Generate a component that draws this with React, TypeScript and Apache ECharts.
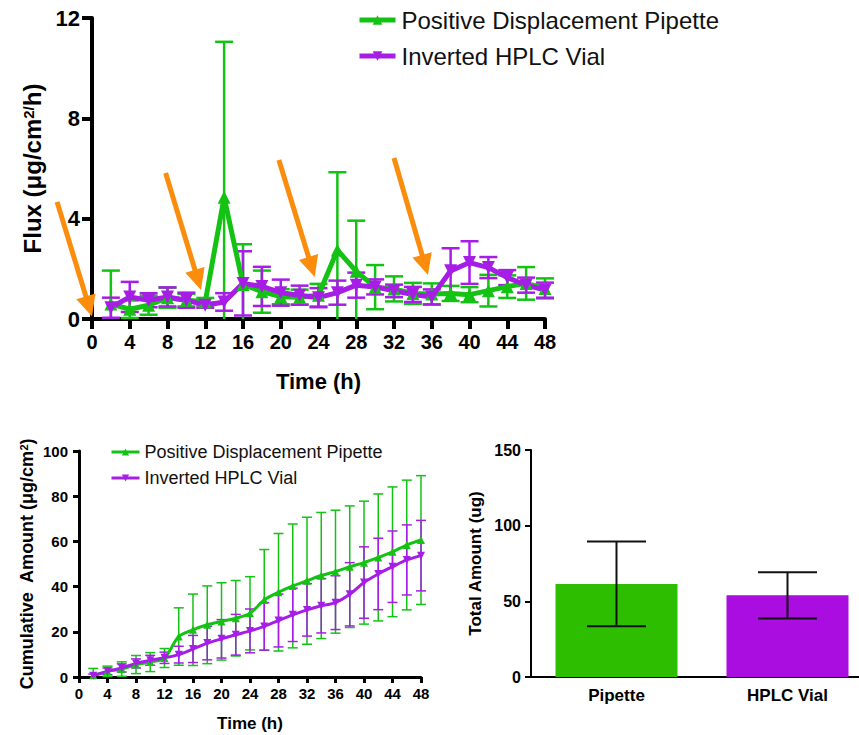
import { useEffect, useRef } from 'react';
import * as echarts from 'echarts';

// Sampling times (h)
const HOURS = [2, 4, 6, 8, 10, 12, 14, 16, 18, 20, 22, 24, 26, 28, 30, 32, 34, 36, 38, 40, 42, 44, 46, 48];

// Flux (µg/cm²/h), mean and SD
const FLUX_PIPETTE = [0.6, 0.39, 0.55, 0.85, 0.75, 0.69, 4.85, 1.38, 1.09, 0.89, 0.87, 0.95, 2.75, 1.9, 1.27, 1.2, 1.02, 1.0, 1.02, 0.97, 1.13, 1.29, 1.42, 1.22];
const FLUX_PIPETTE_SD = [1.33, 0.35, 0.38, 0.4, 0.25, 0.15, 6.2, 1.6, 0.84, 0.3, 0.3, 0.45, 3.1, 2.02, 0.88, 0.5, 0.42, 0.42, 0.3, 0.3, 0.63, 0.45, 0.65, 0.4];
const FLUX_VIAL = [0.45, 0.88, 0.75, 0.88, 0.75, 0.55, 0.68, 1.42, 1.3, 1.05, 0.95, 0.85, 1.05, 1.35, 1.28, 1.12, 0.98, 0.88, 1.92, 2.25, 2.05, 1.65, 1.35, 1.15];
const FLUX_VIAL_SD = [0.4, 0.6, 0.28, 0.38, 0.3, 0.1, 0.35, 1.28, 0.78, 0.52, 0.38, 0.38, 0.48, 0.5, 0.3, 0.25, 0.3, 0.3, 0.9, 0.85, 0.42, 0.3, 0.3, 0.3];

// Cumulative amount (µg/cm²), mean and SD
const CUM_PIPETTE = [0.8, 2.5, 3.5, 5.5, 6.6, 8.4, 17.9, 20.9, 23.1, 24.6, 26.0, 28.2, 34.1, 37.5, 40.3, 42.6, 44.9, 46.6, 48.8, 50.6, 52.9, 55.4, 58.4, 60.6];
const CUM_PIPETTE_SD = [3, 2.3, 3.2, 4, 4.2, 4.2, 12.7, 15.8, 17.2, 17.1, 16.7, 16.2, 22.3, 26, 27.4, 28.1, 27.9, 27.2, 26.9, 27.2, 28.1, 28.7, 28.7, 28.5];
const CUM_VIAL = [0.5, 2.5, 4.0, 6.0, 7.4, 8.5, 9.9, 12.4, 15.0, 16.9, 18.7, 20.4, 22.4, 25.0, 27.5, 29.7, 31.5, 32.9, 36.6, 41.8, 45.6, 48.8, 51.8, 53.7];
const CUM_VIAL_SD = [0.8, 1.5, 1.8, 2.0, 2.2, 2.5, 3.7, 6.0, 7.4, 8.5, 9.0, 9.7, 10.5, 11.7, 11.8, 11.6, 12.0, 11.9, 14.0, 15.8, 15.8, 15.8, 15.5, 15.6];

// Total amount (ug) at 48 h
const TOTAL_GROUPS = ['Pipette', 'HPLC Vial'];
const TOTAL_MEAN = [61.5, 54];
const TOTAL_SD = [28, 15.3];

const SERIES_NAMES = ['Positive Displacement Pipette', 'Inverted HPLC Vial'];

// Dosing arrows on the flux plot: [time, flux] of tail and head
const DOSE_ARROWS = [
  { from: [-3.7, 4.67], to: [0, 0.1] },
  { from: [7.8, 5.82], to: [11.55, 1.16] },
  { from: [19.8, 6.34], to: [23.6, 1.67] },
  { from: [32.0, 6.42], to: [35.6, 1.75] },
];

const GREEN = '#14c214';
const PURPLE = '#a61ee6';
const BAR_GREEN = '#2ebe00';
const BAR_PURPLE = '#aa0de0';
const ORANGE = '#fb8c0c';
const FONT = '"Liberation Sans", Arial, Helvetica, sans-serif';

const withBand = (mean: number[], sd: number[]) => HOURS.map((t, i) => [t, mean[i] - sd[i], mean[i] + sd[i]]);

function errorBars(capWidth: number, lineWidth: number, color: string) {
  return (params: any, api: any) => {
    const x = api.value(0);
    const lo = api.value(1);
    const hi = api.value(2);
    const cs = params.coordSys;
    const floor = cs.y + cs.height;
    const top = api.coord([x, hi]);
    const bottom = api.coord([x, lo]);
    const half = capWidth / 2;
    const style = { stroke: color, lineWidth };
    const yBottom = Math.min(bottom[1], floor);
    const children: any[] = [
      { type: 'line', shape: { x1: top[0], y1: top[1], x2: top[0], y2: yBottom }, style },
      { type: 'line', shape: { x1: top[0] - half, y1: top[1], x2: top[0] + half, y2: top[1] }, style },
    ];
    if (bottom[1] <= floor) {
      children.push({ type: 'line', shape: { x1: bottom[0] - half, y1: bottom[1], x2: bottom[0] + half, y2: bottom[1] }, style });
    }
    return { type: 'group', children };
  };
}

export default function App() {
  const ref = useRef<HTMLDivElement>(null);

  useEffect(() => {
    if (!ref.current) return;
    const chart = echarts.init(ref.current, undefined, { renderer: 'svg' });

    const black = '#000';
    const option: any = {
      animation: false,
      backgroundColor: '#fff',
      textStyle: { fontFamily: FONT },
      legend: [
        {
          left: 352,
          top: 2,
          orient: 'vertical',
          selectedMode: false,
          itemWidth: 36,
          itemHeight: 12,
          itemGap: 10,
          textStyle: { fontSize: 24, color: '#111', fontFamily: FONT, lineHeight: 26, padding: [0, 0, 0, 1] },
          data: SERIES_NAMES.map((n) => ({ name: n, lineStyle: { width: 5 } })),
        },
        {
          left: 105,
          top: 437,
          orient: 'vertical',
          selectedMode: false,
          itemWidth: 28,
          itemHeight: 9,
          itemGap: 6,
          textStyle: { fontSize: 18, color: '#111', fontFamily: FONT, lineHeight: 20, padding: [0, 0, 0, 0] },
          data: SERIES_NAMES.map((n) => ({ name: n, lineStyle: { width: 3 } })),
        },
      ],
      grid: [
        { left: 92, top: 18, width: 453, height: 301, outerBoundsMode: 'none', containLabel: false },
        { left: 79, top: 451, width: 342, height: 226, outerBoundsMode: 'none', containLabel: false },
        { left: 531, top: 450, width: 342, height: 227, outerBoundsMode: 'none', containLabel: false },
      ],
      xAxis: [
        {
          gridIndex: 0,
          type: 'value',
          min: 0,
          max: 48,
          interval: 4,
          splitLine: { show: false },
          axisLine: { lineStyle: { color: black, width: 4 } },
          axisTick: { length: 10, lineStyle: { color: black, width: 4 } },
          axisLabel: { color: black, fontSize: 20, fontWeight: 'bold', margin: 13, fontFamily: FONT },
          name: 'Time (h)',
          nameLocation: 'middle',
          nameGap: 51,
          nameTextStyle: { color: black, fontSize: 22, fontWeight: 'bold', fontFamily: FONT },
        },
        {
          gridIndex: 1,
          type: 'value',
          min: 0,
          max: 48,
          interval: 4,
          splitLine: { show: false },
          axisLine: { lineStyle: { color: black, width: 3 } },
          axisTick: { length: 6, lineStyle: { color: black, width: 3 } },
          axisLabel: { color: black, fontSize: 15, fontWeight: 'bold', margin: 9, fontFamily: FONT },
          name: 'Time (h)',
          nameLocation: 'middle',
          nameGap: 38,
          nameTextStyle: { color: black, fontSize: 17, fontWeight: 'bold', fontFamily: FONT },
        },
        {
          gridIndex: 2,
          type: 'category',
          data: TOTAL_GROUPS,
          axisLine: { lineStyle: { color: black, width: 2 } },
          axisTick: { alignWithLabel: true, length: 6, lineStyle: { color: black, width: 2 } },
          axisLabel: { color: black, fontSize: 17, fontWeight: 'bold', margin: 10, fontFamily: FONT },
        },
      ],
      yAxis: [
        {
          gridIndex: 0,
          type: 'value',
          min: 0,
          max: 12,
          interval: 4,
          splitLine: { show: false },
          axisLine: { show: true, lineStyle: { color: black, width: 4 } },
          axisTick: { show: true, length: 10, lineStyle: { color: black, width: 4 } },
          axisLabel: { color: black, fontSize: 22, fontWeight: 'bold', margin: 12, fontFamily: FONT },
          name: '{b|Flux (μg/cm}{s|2/}{b|h)}',
          nameLocation: 'middle',
          nameGap: 43,
          nameTextStyle: {
            rich: {
              b: { fontSize: 24, fontWeight: 'bold', color: black, fontFamily: FONT },
              s: { fontSize: 15, fontWeight: 'bold', color: black, fontFamily: FONT, verticalAlign: 'top', padding: [0, 0, 9, 0] },
            },
          },
        },
        {
          gridIndex: 1,
          type: 'value',
          min: 0,
          max: 100,
          interval: 20,
          splitLine: { show: false },
          axisLine: { show: true, lineStyle: { color: black, width: 3 } },
          axisTick: { show: true, length: 6, lineStyle: { color: black, width: 3 } },
          axisLabel: { color: black, fontSize: 15, fontWeight: 'bold', margin: 11, fontFamily: FONT },
          name: '{b|Cumulative  Amount (μg/cm}{s|2}{b|)}',
          nameLocation: 'middle',
          nameGap: 43,
          nameTextStyle: {
            rich: {
              b: { fontSize: 18, fontWeight: 'bold', color: black, fontFamily: FONT },
              s: { fontSize: 11, fontWeight: 'bold', color: black, fontFamily: FONT, verticalAlign: 'top', padding: [0, 0, 7, 0] },
            },
          },
        },
        {
          gridIndex: 2,
          type: 'value',
          min: 0,
          max: 150,
          interval: 50,
          splitLine: { show: false },
          axisLine: { show: true, lineStyle: { color: black, width: 2 } },
          axisTick: { show: true, length: 6, lineStyle: { color: black, width: 2 } },
          axisLabel: { color: black, fontSize: 16, fontWeight: 'bold', margin: 10, fontFamily: FONT },
          name: 'Total Amount (ug)',
          nameLocation: 'middle',
          nameGap: 47,
          nameTextStyle: { color: black, fontSize: 17, fontWeight: 'bold', fontFamily: FONT },
        },
      ],
      series: [
        // Flux
        {
          type: 'custom', name: 'flux-sd-pipette', xAxisIndex: 0, yAxisIndex: 0,
          renderItem: errorBars(18, 2.5, GREEN), encode: { x: 0, y: [1, 2] },
          data: withBand(FLUX_PIPETTE, FLUX_PIPETTE_SD),
        },
        {
          type: 'line', name: SERIES_NAMES[0], xAxisIndex: 0, yAxisIndex: 0,
          data: HOURS.map((t, i) => [t, FLUX_PIPETTE[i]]),
          symbol: 'triangle', symbolSize: 13,
          lineStyle: { color: GREEN, width: 5 }, itemStyle: { color: GREEN },
        },
        {
          type: 'custom', name: 'flux-sd-vial', xAxisIndex: 0, yAxisIndex: 0,
          renderItem: errorBars(18, 2.5, PURPLE), encode: { x: 0, y: [1, 2] },
          data: withBand(FLUX_VIAL, FLUX_VIAL_SD),
        },
        {
          type: 'line', name: SERIES_NAMES[1], xAxisIndex: 0, yAxisIndex: 0,
          data: HOURS.map((t, i) => [t, FLUX_VIAL[i]]),
          symbol: 'triangle', symbolRotate: 180, symbolSize: 13,
          lineStyle: { color: PURPLE, width: 5 }, itemStyle: { color: PURPLE },
        },
        // Cumulative amount
        {
          type: 'custom', name: 'cum-sd-pipette', xAxisIndex: 1, yAxisIndex: 1,
          renderItem: errorBars(10, 1.5, GREEN), encode: { x: 0, y: [1, 2] },
          data: withBand(CUM_PIPETTE, CUM_PIPETTE_SD),
        },
        {
          type: 'line', name: SERIES_NAMES[0], xAxisIndex: 1, yAxisIndex: 1,
          data: HOURS.map((t, i) => [t, CUM_PIPETTE[i]]),
          symbol: 'triangle', symbolSize: 8, smooth: 0.3,
          lineStyle: { color: GREEN, width: 3 }, itemStyle: { color: GREEN },
        },
        {
          type: 'custom', name: 'cum-sd-vial', xAxisIndex: 1, yAxisIndex: 1,
          renderItem: errorBars(10, 1.5, PURPLE), encode: { x: 0, y: [1, 2] },
          data: withBand(CUM_VIAL, CUM_VIAL_SD),
        },
        {
          type: 'line', name: SERIES_NAMES[1], xAxisIndex: 1, yAxisIndex: 1,
          data: HOURS.map((t, i) => [t, CUM_VIAL[i]]),
          symbol: 'triangle', symbolRotate: 180, symbolSize: 8, smooth: 0.3,
          lineStyle: { color: PURPLE, width: 3 }, itemStyle: { color: PURPLE },
        },
        // Total amount
        {
          type: 'bar', name: 'total', xAxisIndex: 2, yAxisIndex: 2, barWidth: 122,
          data: TOTAL_MEAN.map((v, i) => ({ value: v, itemStyle: { color: i === 0 ? BAR_GREEN : BAR_PURPLE } })),
        },
        {
          type: 'custom', name: 'total-sd', xAxisIndex: 2, yAxisIndex: 2,
          renderItem: errorBars(59, 2, '#111'), encode: { x: 0, y: [1, 2] },
          data: TOTAL_MEAN.map((v, i) => [i, v - TOTAL_SD[i], v + TOTAL_SD[i]]),
          z: 3,
        },
      ],
    };

    chart.setOption(option);

    // Dosing arrows, placed from flux-plot data coordinates
    const headLen = 21;
    const headHalf = 10;
    const graphics: any[] = [];
    DOSE_ARROWS.forEach((a) => {
      const p0 = chart.convertToPixel({ gridIndex: 0 }, a.from) as number[];
      const p1 = chart.convertToPixel({ gridIndex: 0 }, a.to) as number[];
      const dx = p1[0] - p0[0];
      const dy = p1[1] - p0[1];
      const len = Math.hypot(dx, dy);
      const ux = dx / len;
      const uy = dy / len;
      const bx = p1[0] - ux * headLen;
      const by = p1[1] - uy * headLen;
      graphics.push({
        type: 'line',
        shape: { x1: p0[0], y1: p0[1], x2: bx + ux * 2, y2: by + uy * 2 },
        style: { stroke: ORANGE, lineWidth: 5 },
        z: 100,
      });
      graphics.push({
        type: 'polygon',
        shape: { points: [[p1[0], p1[1]], [bx - uy * headHalf, by + ux * headHalf], [bx + uy * headHalf, by - ux * headHalf]] },
        style: { fill: ORANGE },
        z: 100,
      });
    });
    chart.setOption({ graphic: graphics });

    return () => chart.dispose();
  }, []);

  return <div ref={ref} style={{ position: 'fixed', left: 0, top: 0, width: 859, height: 735 }} />;
}
